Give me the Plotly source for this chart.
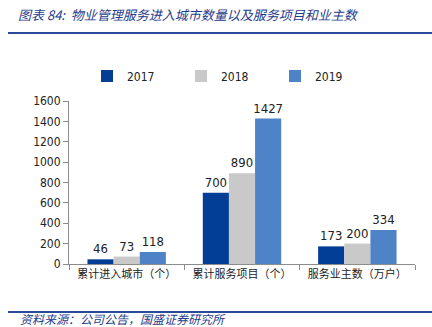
import plotly.graph_objects as go

categories = ["累计进入城市（个）", "累计服务项目（个）", "服务业主数（万户）"]
years = ["2017", "2018", "2019"]
values_2017 = [46, 700, 173]
values_2018 = [73, 890, 200]
values_2019 = [118, 1427, 334]
colors = ["#033E96", "#C9C9C9", "#4E83C8"]

W, H = 432, 327
L, R, T, B = 69, 17, 101, 63
pw, ph = W - L - R, H - T - B

def px(x):
    return (x - L) / pw

def py(y):
    return (H - B - y) / ph

NUM_FONT = "DejaVu Sans Condensed, DejaVu Sans"
legend_ids = ["legend", "legend2", "legend3"]
legend_text_x = [127, 221, 315]

fig = go.Figure()
for name, vals, c, lid in zip(years, [values_2017, values_2018, values_2019], colors, legend_ids):
    fig.add_trace(go.Bar(
        x=categories, y=vals, name=name, marker=dict(color=c, line=dict(width=0)),
        text=[str(v) for v in vals], textposition="outside", constraintext="none",
        textfont=dict(size=13, color="#222222", family=NUM_FONT),
        cliponaxis=False, legend=lid,
    ))

legend_common = dict(orientation="h", yanchor="middle", xanchor="left",
                     font=dict(size=12, family=NUM_FONT, color="#222222"),
                     itemwidth=30, bgcolor="rgba(0,0,0,0)", borderwidth=0)
layout_legends = {}
for lid, tx in zip(legend_ids, legend_text_x):
    layout_legends[lid] = dict(legend_common, x=px(tx - 40), y=py(76))

fig.update_layout(
    width=W, height=H,
    margin=dict(l=L, r=R, t=T, b=B),
    paper_bgcolor="white", plot_bgcolor="white",
    barmode="group", bargap=0.32, bargroupgap=0,
    showlegend=True,
    font=dict(family=NUM_FONT),
    **layout_legends,
)
fig.update_yaxes(range=[0, 1600], dtick=200, showgrid=False, showline=True,
                 linecolor="#8c8c8c", linewidth=1, ticks="outside", ticklen=5,
                 tickcolor="#8c8c8c", tickfont=dict(size=12, color="#222222", family=NUM_FONT),
                 zeroline=False)
fig.update_xaxes(showline=True, linecolor="#8c8c8c", linewidth=1, ticks="outside",
                 tickson="boundaries", ticklen=5, tickcolor="#8c8c8c",
                 tickfont=dict(size=11, color="#222222", family="Noto Sans CJK SC"))

fig.add_shape(type="line", xref="paper", yref="paper", x0=px(8), x1=px(432),
              y0=py(33), y1=py(33), line=dict(color="#2A4A9C", width=2))
fig.add_shape(type="line", xref="paper", yref="paper", x0=px(8), x1=px(432),
              y0=py(312), y1=py(312), line=dict(color="#2A4A9C", width=2))
fig.add_annotation(xref="paper", yref="paper", x=px(17), y=py(15), xanchor="left",
                   yanchor="middle", showarrow=False, borderpad=0,
                   text="<i>图表 84:  物业管理服务进入城市数量以及服务项目和业主数</i>",
                   font=dict(size=13, color="#1F3C8C", family="Noto Sans CJK SC"))
fig.add_annotation(xref="paper", yref="paper", x=px(19), y=py(318), xanchor="left",
                   yanchor="middle", showarrow=False, borderpad=0,
                   text="<i>资料来源：公司公告，国盛证券研究所</i>",
                   font=dict(size=12, color="#1F3C8C", family="Noto Sans CJK SC"))

fig.write_html("out.html")
